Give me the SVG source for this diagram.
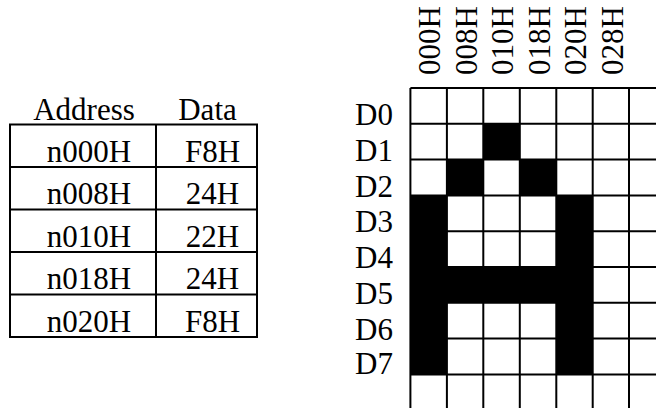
<svg xmlns="http://www.w3.org/2000/svg" width="656" height="408" viewBox="0 0 656 408">
<style>
text{font-family:"Liberation Serif","Times New Roman",serif;font-size:31px;fill:#000}
.c{text-anchor:middle}
.ln{stroke:#000;stroke-width:2;fill:none}
.blk{fill:#000}
</style>
<rect width="656" height="408" fill="#fff"/>
<g id="table">
<text class="c" x="84" y="120">Address</text>
<text class="c" x="207.5" y="120">Data</text>
<rect class="ln" x="10" y="124.5" width="247" height="212.5"/>
<line class="ln" x1="156" y1="124.5" x2="156" y2="337"/>
<line class="ln" x1="10" y1="167" x2="257" y2="167"/>
<line class="ln" x1="10" y1="209.5" x2="257" y2="209.5"/>
<line class="ln" x1="10" y1="252" x2="257" y2="252"/>
<line class="ln" x1="10" y1="294.5" x2="257" y2="294.5"/>
<text class="c" x="89" y="161.5">n000H</text>
<text class="c" x="212.5" y="161.5">F8H</text>
<text class="c" x="89" y="204">n008H</text>
<text class="c" x="212.5" y="204">24H</text>
<text class="c" x="89" y="246.5">n010H</text>
<text class="c" x="212.5" y="246.5">22H</text>
<text class="c" x="89" y="289">n018H</text>
<text class="c" x="212.5" y="289">24H</text>
<text class="c" x="89" y="331.5">n020H</text>
<text class="c" x="212.5" y="331.5">F8H</text>
</g>
<g id="headers">
<text transform="translate(440,75) rotate(-90)">000H</text>
<text transform="translate(476.5,75) rotate(-90)">008H</text>
<text transform="translate(513,75) rotate(-90)">010H</text>
<text transform="translate(549.5,75) rotate(-90)">018H</text>
<text transform="translate(586,75) rotate(-90)">020H</text>
<text transform="translate(622.5,75) rotate(-90)">028H</text>
</g>
<g id="bits">
<text x="355" y="125">D0</text>
<text x="355" y="160.5">D1</text>
<text x="355" y="196.5">D2</text>
<text x="355" y="232">D3</text>
<text x="355" y="268">D4</text>
<text x="355" y="304">D5</text>
<text x="355" y="339.5">D6</text>
<text x="355" y="374">D7</text>
</g>
<g id="grid">
<rect class="blk" x="483.3" y="123.8" width="36.5" height="35.8"/>
<rect class="blk" x="446.9" y="159.6" width="36.5" height="35.8"/>
<rect class="blk" x="519.8" y="159.6" width="36.5" height="35.8"/>
<rect class="blk" x="410.4" y="195.4" width="36.5" height="179"/>
<rect class="blk" x="556.3" y="195.4" width="36.5" height="179"/>
<rect class="blk" x="410.4" y="267" width="182.4" height="35.8"/>
<g class="ln">
<line x1="410.4" y1="88" x2="410.4" y2="408"/>
<line x1="446.9" y1="88" x2="446.9" y2="408"/>
<line x1="483.3" y1="88" x2="483.3" y2="408"/>
<line x1="519.8" y1="88" x2="519.8" y2="408"/>
<line x1="556.3" y1="88" x2="556.3" y2="408"/>
<line x1="592.7" y1="88" x2="592.7" y2="408"/>
<line x1="629" y1="88" x2="629" y2="408"/>
<line x1="410.4" y1="88" x2="656" y2="88"/>
<line x1="410.4" y1="123.8" x2="656" y2="123.8"/>
<line x1="410.4" y1="159.6" x2="656" y2="159.6"/>
<line x1="410.4" y1="195.4" x2="656" y2="195.4"/>
<line x1="410.4" y1="231.2" x2="656" y2="231.2"/>
<line x1="410.4" y1="267" x2="656" y2="267"/>
<line x1="410.4" y1="302.8" x2="656" y2="302.8"/>
<line x1="410.4" y1="338.6" x2="656" y2="338.6"/>
<line x1="410.4" y1="374.4" x2="656" y2="374.4"/>
</g>
</g>
</svg>
